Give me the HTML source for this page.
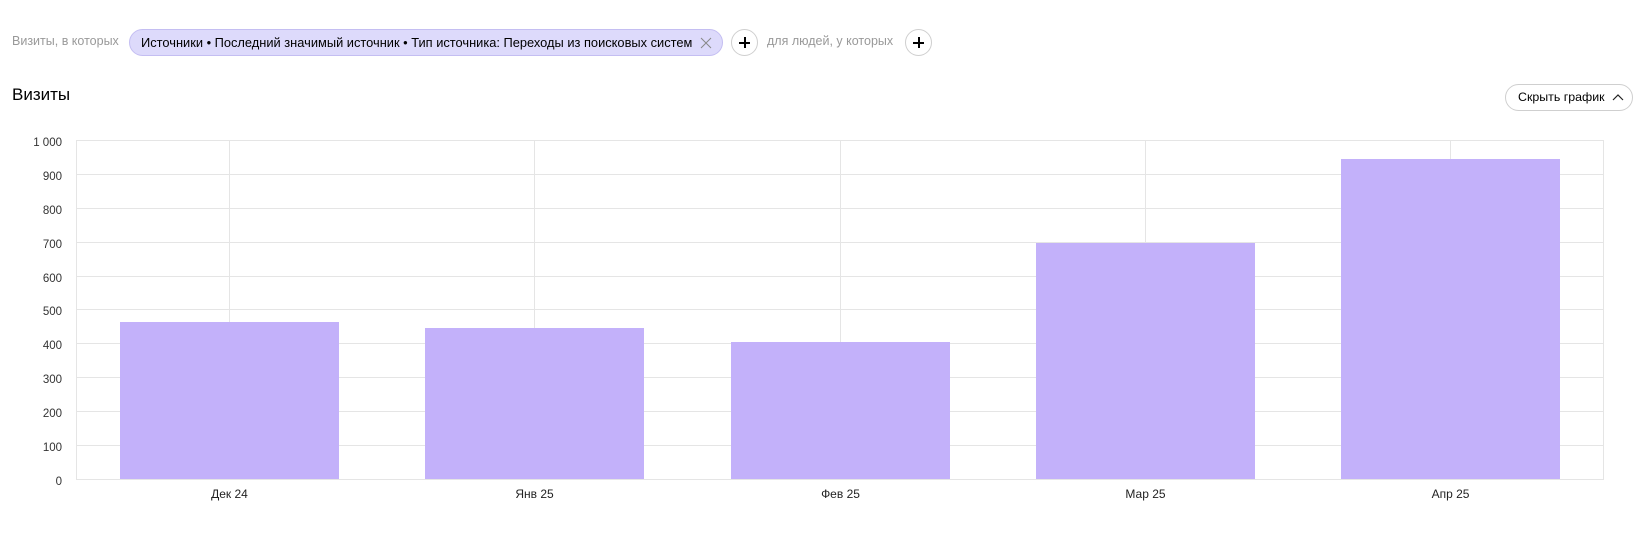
<!DOCTYPE html>
<html><head><meta charset="utf-8"><style>
*{margin:0;padding:0;box-sizing:border-box}
body{width:1648px;height:546px;background:#fff;font-family:"Liberation Sans",Arial,sans-serif;position:relative;overflow:hidden;color:#000}
.abs{position:absolute;white-space:nowrap}
.gray{color:#999;font-size:12.5px}
.chip{position:absolute;left:129px;top:29px;width:594px;height:27px;border-radius:14px;background:#dddafb;border:1px solid #c4bef2;font-size:12.85px;line-height:25px;padding-left:11px;white-space:nowrap}
.plus{position:absolute;width:27px;height:27px;border-radius:50%;border:1px solid #cfcfcf;background:#fff}
.plus:before{content:"";position:absolute;left:7px;top:12px;width:11px;height:2px;background:#000}
.plus:after{content:"";position:absolute;left:12px;top:7px;width:2px;height:11px;background:#000}
.btn{position:absolute;left:1505px;top:84px;width:128px;height:27px;border:1px solid #cfcfcf;border-radius:14px;font-size:12.4px;line-height:25px;padding-left:12px;white-space:nowrap}
</style></head><body>
<div class="abs gray" style="left:12px;top:34px">Визиты, в которых</div>
<div class="chip">Источники • Последний значимый источник • Тип источника: Переходы из поисковых систем
<svg style="position:absolute;left:570px;top:7px" width="12" height="12"><path d="M1 1L11 11M11 1L1 11" stroke="#888" stroke-width="1"/></svg></div>
<div class="plus" style="left:731px;top:29px"></div>
<div class="abs gray" style="left:767px;top:34px">для людей, у которых</div>
<div class="plus" style="left:905px;top:29px"></div>
<div class="abs" style="left:12px;top:85px;font-size:17px">Визиты</div>
<div class="btn">Скрыть график<svg style="position:absolute;left:106px;top:8px" width="12" height="10"><path d="M1 7L6 2L11 7" stroke="#222" stroke-width="1.2" fill="none"/></svg></div>
<svg class="abs" style="left:0;top:0" width="1648" height="546">
<g stroke="#e5e5e5" stroke-width="1">
<line x1="76" y1="140.5" x2="1604" y2="140.5"/>
<line x1="76" y1="174.5" x2="1604" y2="174.5"/>
<line x1="76" y1="208.5" x2="1604" y2="208.5"/>
<line x1="76" y1="242.5" x2="1604" y2="242.5"/>
<line x1="76" y1="276.5" x2="1604" y2="276.5"/>
<line x1="76" y1="309.5" x2="1604" y2="309.5"/>
<line x1="76" y1="343.5" x2="1604" y2="343.5"/>
<line x1="76" y1="377.5" x2="1604" y2="377.5"/>
<line x1="76" y1="411.5" x2="1604" y2="411.5"/>
<line x1="76" y1="445.5" x2="1604" y2="445.5"/>
<line x1="76" y1="479.5" x2="1604" y2="479.5"/>
<line x1="76.5" y1="140" x2="76.5" y2="480"/>
<line x1="1603.5" y1="140" x2="1603.5" y2="480"/>
<line x1="229.5" y1="140" x2="229.5" y2="480"/>
<line x1="534.5" y1="140" x2="534.5" y2="480"/>
<line x1="840.5" y1="140" x2="840.5" y2="480"/>
<line x1="1145.5" y1="140" x2="1145.5" y2="480"/>
<line x1="1450.5" y1="140" x2="1450.5" y2="480"/>
</g>
<g fill="#c3b1fa">
<rect x="120" y="322" width="219" height="157"/>
<rect x="425" y="328" width="219" height="151"/>
<rect x="731" y="342" width="219" height="137"/>
<rect x="1036" y="243" width="219" height="236"/>
<rect x="1341" y="159" width="219" height="320"/>
</g>
<g font-family="Liberation Sans, Arial, sans-serif" font-size="11.5" fill="#333" text-anchor="end">
<text x="62" y="146">1 000</text>
<text x="62" y="180">900</text>
<text x="62" y="214">800</text>
<text x="62" y="248">700</text>
<text x="62" y="282">600</text>
<text x="62" y="315">500</text>
<text x="62" y="349">400</text>
<text x="62" y="383">300</text>
<text x="62" y="417">200</text>
<text x="62" y="451">100</text>
<text x="62" y="485">0</text>
</g>
<g font-family="Liberation Sans, Arial, sans-serif" font-size="12" fill="#222" text-anchor="middle">
<text x="229.5" y="498">Дек 24</text>
<text x="534.5" y="498">Янв 25</text>
<text x="840.5" y="498">Фев 25</text>
<text x="1145.5" y="498">Мар 25</text>
<text x="1450.5" y="498">Апр 25</text>
</g>
</svg>
</body></html>
